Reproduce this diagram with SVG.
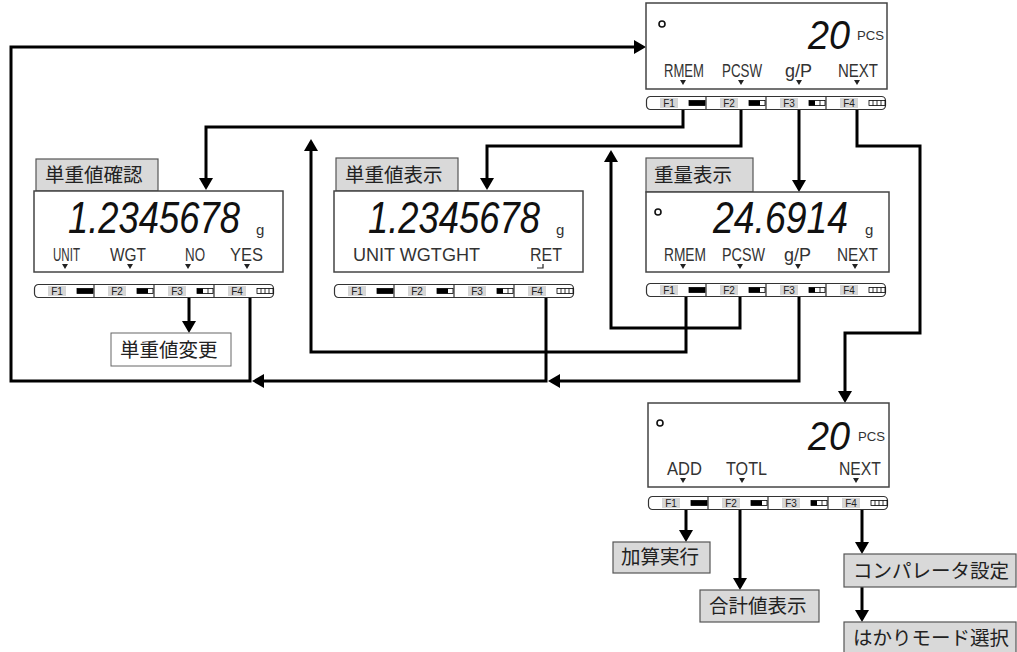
<svg xmlns="http://www.w3.org/2000/svg" xmlns:xlink="http://www.w3.org/1999/xlink" width="1017" height="652" viewBox="0 0 1017 652">
<style>
.disp{fill:#fff;stroke:#444;stroke-width:1.5}
.lbl{fill:#d9d9d9;stroke:#555;stroke-width:1.2}
.lblw{fill:#fff;stroke:#666;stroke-width:1}
.cjk{font-family:"Noto Sans CJK JP","Noto Sans CJK SC",sans-serif;font-size:19.5px;fill:#222}
.big{font-family:"Liberation Sans",sans-serif;font-style:italic;fill:#111}
.seg{font-family:"Liberation Sans",sans-serif;font-size:19px;fill:#333}
.fk{font-family:"Liberation Sans",sans-serif;font-size:10px;fill:#222;text-anchor:middle}
.conn{fill:none;stroke:#000;stroke-width:3;stroke-linejoin:miter}
.tri{fill:#222}
.ind{fill:none;stroke:#111;stroke-width:1.6}
</style>
<defs>
<marker id="ah" viewBox="0 0 12 14" refX="9" refY="7" markerWidth="12" markerHeight="14" markerUnits="userSpaceOnUse" orient="auto">
<path d="M0,0 L12,7 L0,14 z" fill="#000"/>
</marker>
<g id="kb">
<rect x="0.5" y="0.5" width="239" height="13" rx="4" fill="#fff" stroke="#333" stroke-width="1.2"/>
<path d="M60 0.5V13.5M120 0.5V13.5M180 0.5V13.5" stroke="#333" stroke-width="1.2"/>
<rect x="14" y="2" width="18" height="10" fill="#d6d6d6"/>
<rect x="74" y="2" width="18" height="10" fill="#d6d6d6"/>
<rect x="134" y="2" width="18" height="10" fill="#d6d6d6"/>
<rect x="194" y="2" width="18" height="10" fill="#d6d6d6"/>
<text class="fk" x="23" y="11">F1</text>
<text class="fk" x="83" y="11">F2</text>
<text class="fk" x="143" y="11">F3</text>
<text class="fk" x="203" y="11">F4</text>
<rect x="43" y="4.5" width="16" height="5" fill="#000" stroke="#000" stroke-width="0.8"/>
<rect x="103" y="4.5" width="16" height="5" fill="#fff" stroke="#000" stroke-width="0.8"/>
<rect x="103" y="4.5" width="11" height="5" fill="#000"/>
<rect x="163" y="4.5" width="16" height="5" fill="#fff" stroke="#000" stroke-width="0.8"/>
<rect x="163" y="4.5" width="6" height="5" fill="#000"/>
<path d="M174 4.5V9.5" stroke="#000" stroke-width="0.8"/>
<rect x="223" y="4.5" width="16" height="5" fill="#fff" stroke="#000" stroke-width="0.8"/>
<path d="M227 4.5V9.5M231 4.5V9.5M235 4.5V9.5" stroke="#000" stroke-width="0.8"/>
</g>
</defs>
<rect width="1017" height="652" fill="#fff"/>

<g id="connectors">
<path class="conn" d="M683,110 V127 H206 V187" marker-end="url(#ah)"/>
<path class="conn" d="M741,110 V146 H487 V187" marker-end="url(#ah)"/>
<path class="conn" d="M799,110 V189" marker-end="url(#ah)"/>
<path class="conn" d="M857,110 V146 H920 V333 H845 V400" marker-end="url(#ah)"/>
<path class="conn" d="M686,297 V352 H311 V142" marker-end="url(#ah)"/>
<path class="conn" d="M740,297 V328 H611 V153" marker-end="url(#ah)"/>
<path class="conn" d="M799,297 V381 H551" marker-end="url(#ah)"/>
<path class="conn" d="M546,298 V381 H255" marker-end="url(#ah)"/>
<path class="conn" d="M250,298 V381 H11 V47 H643" marker-end="url(#ah)"/>
<path class="conn" d="M189,298 V330" marker-end="url(#ah)"/>
<path class="conn" d="M686,510 V539" marker-end="url(#ah)"/>
<path class="conn" d="M740,510 V587" marker-end="url(#ah)"/>
<path class="conn" d="M862,510 V551" marker-end="url(#ah)"/>
<path class="conn" d="M862,587 V619" marker-end="url(#ah)"/>
</g>

<g id="display-top">
<rect class="disp" x="646" y="3" width="241" height="86"/>
<circle class="ind" cx="662" cy="24" r="3"/>
<text class="big" transform="translate(808,49) scale(1,1.06)" font-size="37.8">20</text>
<text class="seg" x="857" y="40" style="font-size:12px" textLength="27" lengthAdjust="spacingAndGlyphs">PCS</text>
<text class="seg" x="664" y="77" textLength="40" lengthAdjust="spacingAndGlyphs">RMEM</text>
<text class="seg" x="722" y="77" textLength="40" lengthAdjust="spacingAndGlyphs">PCSW</text>
<text class="seg" x="785" y="77" textLength="27" lengthAdjust="spacingAndGlyphs">g/P</text>
<text class="seg" x="838" y="77" textLength="40" lengthAdjust="spacingAndGlyphs">NEXT</text>
<polygon class="tri" points="680,80 686,80 683,85"/>
<polygon class="tri" points="738,80 744,80 741,85"/>
<polygon class="tri" points="796,80 802,80 799,85"/>
<polygon class="tri" points="854,80 860,80 857,85"/>
<use xlink:href="#kb" x="646" y="96"/>
</g>

<g id="display-unit-check">
<rect class="lbl" x="36" y="159" width="122" height="32"/>
<text class="cjk" x="45" y="182">単重値確認</text>
<rect class="disp" x="34" y="191" width="249" height="81"/>
<text class="big" transform="translate(68,233) scale(1,1.2)" font-size="36.4">1.2345678</text>
<text class="seg" x="256" y="235" style="font-size:15px">g</text>
<text class="seg" x="53" y="261" textLength="27" lengthAdjust="spacingAndGlyphs">UNIT</text>
<text class="seg" x="110" y="261" textLength="36" lengthAdjust="spacingAndGlyphs">WGT</text>
<text class="seg" x="185" y="261" textLength="20" lengthAdjust="spacingAndGlyphs">NO</text>
<text class="seg" x="230" y="261" textLength="33" lengthAdjust="spacingAndGlyphs">YES</text>
<polygon class="tri" points="62,264 68,264 65,269"/>
<polygon class="tri" points="127,264 133,264 130,269"/>
<polygon class="tri" points="185,264 191,264 188,269"/>
<polygon class="tri" points="244,264 250,264 247,269"/>
<use xlink:href="#kb" x="34" y="284"/>
</g>

<g id="display-unit-show">
<rect class="lbl" x="336" y="158" width="122" height="33"/>
<text class="cjk" x="345" y="182">単重値表示</text>
<rect class="disp" x="334" y="191" width="249" height="81"/>
<text class="big" transform="translate(368,233) scale(1,1.2)" font-size="36.4">1.2345678</text>
<text class="seg" x="556" y="235" style="font-size:15px">g</text>
<text class="seg" x="353" y="261" textLength="127" lengthAdjust="spacingAndGlyphs">UNIT WGTGHT</text>
<text class="seg" x="530" y="261" textLength="32" lengthAdjust="spacingAndGlyphs">RET</text>
<path d="M543,264 V268 H537" fill="none" stroke="#222" stroke-width="1.2"/>
<use xlink:href="#kb" x="334" y="284"/>
</g>

<g id="display-weight">
<rect class="lbl" x="646" y="158" width="107" height="34"/>
<text class="cjk" x="654" y="182">重量表示</text>
<rect class="disp" x="646" y="192" width="243" height="80"/>
<circle class="ind" cx="658" cy="212" r="3"/>
<text class="big" transform="translate(713,233) scale(1,1.17)" font-size="37.4">24.6914</text>
<text class="seg" x="865" y="235" style="font-size:15px">g</text>
<text class="seg" x="664" y="261" textLength="42" lengthAdjust="spacingAndGlyphs">RMEM</text>
<text class="seg" x="722" y="261" textLength="43" lengthAdjust="spacingAndGlyphs">PCSW</text>
<text class="seg" x="784" y="261" textLength="27" lengthAdjust="spacingAndGlyphs">g/P</text>
<text class="seg" x="837" y="261" textLength="41" lengthAdjust="spacingAndGlyphs">NEXT</text>
<polygon class="tri" points="680,264 686,264 683,269"/>
<polygon class="tri" points="737,264 743,264 740,269"/>
<polygon class="tri" points="795,264 801,264 798,269"/>
<polygon class="tri" points="852,264 858,264 855,269"/>
<use xlink:href="#kb" x="646" y="283"/>
</g>

<g id="display-next">
<rect class="disp" x="648" y="403" width="241" height="84"/>
<circle class="ind" cx="660" cy="423" r="3"/>
<text class="big" transform="translate(808,450) scale(1,1.06)" font-size="37.8">20</text>
<text class="seg" x="858" y="441" style="font-size:12px" textLength="27" lengthAdjust="spacingAndGlyphs">PCS</text>
<text class="seg" x="667" y="475" textLength="35" lengthAdjust="spacingAndGlyphs">ADD</text>
<text class="seg" x="726" y="475" textLength="41" lengthAdjust="spacingAndGlyphs">TOTL</text>
<text class="seg" x="839" y="475" textLength="42" lengthAdjust="spacingAndGlyphs">NEXT</text>
<polygon class="tri" points="680,478 686,478 683,483"/>
<polygon class="tri" points="739,478 745,478 742,483"/>
<polygon class="tri" points="853,478 859,478 856,483"/>
<use xlink:href="#kb" x="648" y="496"/>
</g>

<g id="box-unit-change">
<rect class="lblw" x="111" y="333" width="120" height="33"/>
<text class="cjk" x="120" y="357">単重値変更</text>
</g>

<g id="box-add">
<rect class="lbl" x="613" y="542" width="97" height="31"/>
<text class="cjk" x="621" y="564">加算実行</text>
</g>

<g id="box-total">
<rect class="lbl" x="700" y="590" width="119" height="32"/>
<text class="cjk" x="709" y="613">合計値表示</text>
</g>

<g id="box-comparator">
<rect class="lbl" x="844" y="554" width="172" height="33"/>
<text class="cjk" x="853" y="578">コンパレータ設定</text>
</g>

<g id="box-mode">
<rect class="lbl" x="844" y="622" width="172" height="32"/>
<text class="cjk" x="853" y="645">はかりモード選択</text>
</g>
</svg>
